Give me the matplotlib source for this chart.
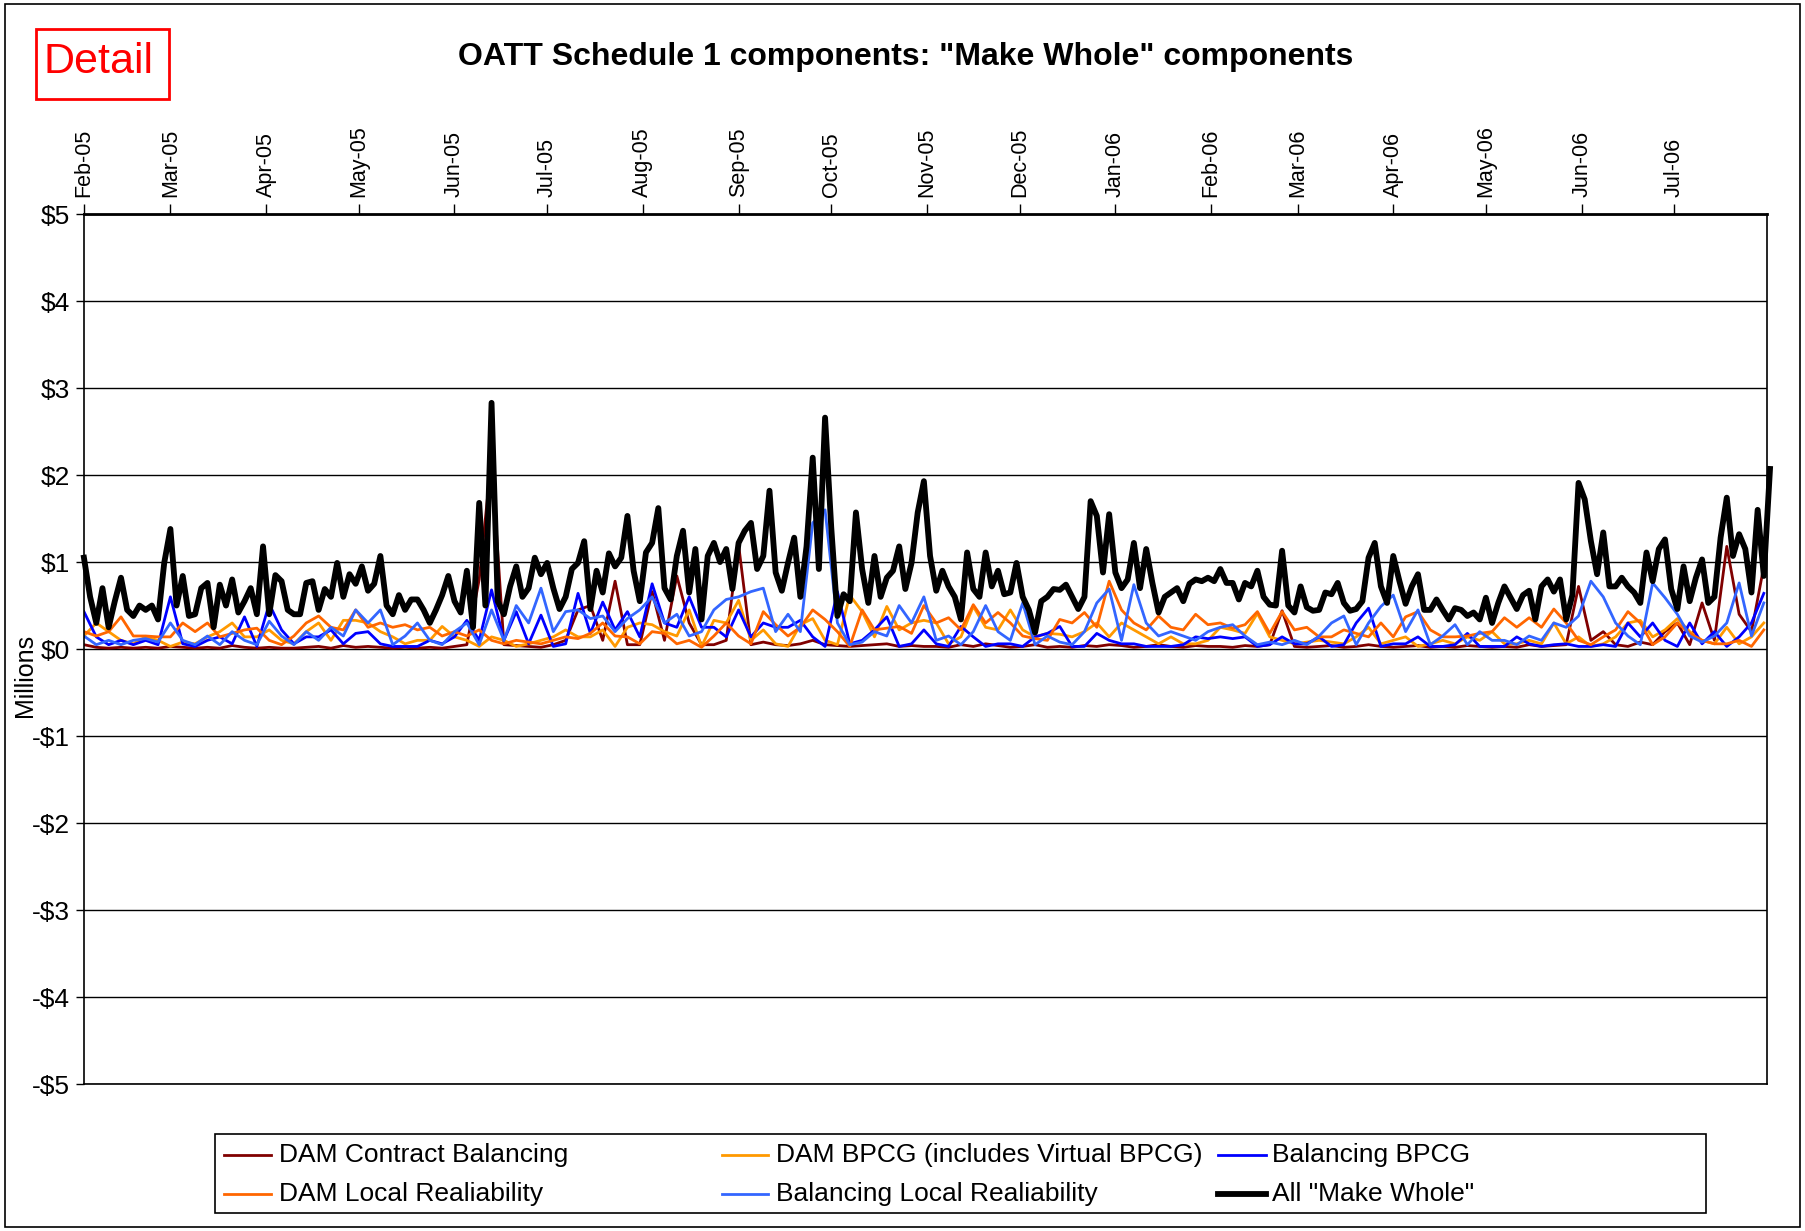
import matplotlib
matplotlib.use("Agg")
import matplotlib.pyplot as plt
import matplotlib.dates as mdates
from matplotlib.lines import Line2D
from matplotlib.patches import Rectangle
import pandas as pd

plt.rcParams['font.family'] = ['Liberation Sans', 'DejaVu Sans']

# daily make-whole totals, read every 2nd day ($ millions)
all_make_whole = [
    1.05, 0.6, 0.3, 0.7, 0.25, 0.55, 0.82, 0.45, 0.38, 0.5,
    0.45, 0.5, 0.34, 0.99, 1.38, 0.5, 0.84, 0.38, 0.4, 0.7,
    0.76, 0.25, 0.74, 0.5, 0.8, 0.42, 0.55, 0.7, 0.4, 1.18,
    0.4, 0.85, 0.78, 0.45, 0.4, 0.4, 0.76, 0.78, 0.45, 0.69,
    0.6, 0.99, 0.6, 0.86, 0.75, 0.95, 0.67,
    0.75, 1.07, 0.5, 0.4, 0.62, 0.45, 0.57, 0.57, 0.45, 0.3,
    0.45, 0.62, 0.84, 0.55, 0.42, 0.9, 0.25, 1.68, 0.5, 2.83,
    0.55, 0.4, 0.72, 0.95, 0.6, 0.7, 1.05, 0.86, 0.99, 0.7,
    0.46, 0.6, 0.92, 0.99, 1.24, 0.46, 0.9, 0.65, 1.1, 0.95,
    1.05, 1.53, 0.9, 0.55, 1.11,
    1.22, 1.62, 0.7, 0.57, 1.07, 1.36, 0.65, 1.15, 0.34, 1.07,
    1.22, 1.0, 1.15, 0.69, 1.22, 1.36, 1.45, 0.92, 1.07, 1.82,
    0.88, 0.67, 0.99, 1.28, 0.6, 1.18, 2.2, 0.92, 2.66, 1.4,
    0.38, 0.63, 0.55, 1.57, 0.92, 0.53, 1.07, 0.6, 0.82, 0.9,
    1.18, 0.69, 0.99, 1.57, 1.93,
    1.07, 0.67, 0.9, 0.72, 0.6, 0.34, 1.11, 0.69, 0.6, 1.11,
    0.72, 0.9, 0.63, 0.65, 0.99, 0.6, 0.45, 0.19, 0.55, 0.6,
    0.69, 0.68, 0.74, 0.6, 0.46, 0.6, 1.7, 1.53, 0.88, 1.55,
    0.88, 0.7, 0.8, 1.22, 0.7, 1.15, 0.76, 0.42, 0.6, 0.65,
    0.7, 0.55, 0.75, 0.8, 0.78, 0.82,
    0.78, 0.92, 0.76, 0.76, 0.57, 0.76, 0.72, 0.9, 0.6, 0.51,
    0.5, 1.13, 0.5, 0.42, 0.72, 0.48, 0.44, 0.45, 0.65, 0.63,
    0.76, 0.53, 0.44, 0.46, 0.55, 1.05, 1.22, 0.72, 0.53, 1.07,
    0.78, 0.52, 0.72, 0.86, 0.45, 0.45, 0.57, 0.45, 0.34, 0.47,
    0.45, 0.38, 0.42, 0.34, 0.59, 0.3,
    0.53, 0.72, 0.59, 0.46, 0.62, 0.67, 0.34, 0.72, 0.8, 0.66,
    0.8, 0.34, 0.62, 1.91, 1.72, 1.24, 0.86, 1.34, 0.72, 0.72,
    0.82, 0.72, 0.65, 0.53, 1.11, 0.78, 1.15, 1.26, 0.69, 0.46,
    0.95, 0.55, 0.82, 1.03, 0.53, 0.6, 1.28, 1.74, 1.07, 1.32,
    1.15, 0.65, 1.6, 0.84, 2.07,
]

# components, read every 4th day ($ millions)
dam_contract_balancing = [
    0.05, 0.02, 0.01, 0.02, 0.01, 0.02, 0.01, 0.03, 0.02, 0.01, 0.02, 0.01,
    0.04, 0.02, 0.01, 0.02, 0.01, 0.01, 0.02, 0.03, 0.01, 0.04, 0.02, 0.03,
    0.02, 0.01, 0.02, 0.01, 0.02, 0.01, 0.03, 0.05, 0.8, 2.2, 0.05,
    0.04, 0.03, 0.02, 0.05, 0.1, 0.45, 0.5, 0.1, 0.78, 0.05, 0.05,
    0.66, 0.1, 0.84, 0.3, 0.05, 0.05, 0.1, 1.2, 0.05, 0.08, 0.05, 0.04,
    0.06, 0.1, 0.05, 0.04, 0.03, 0.04, 0.05, 0.06, 0.03, 0.04, 0.03,
    0.03, 0.02, 0.05, 0.03, 0.06, 0.04, 0.02, 0.03, 0.05, 0.02, 0.03, 0.02,
    0.04, 0.03, 0.05, 0.04, 0.02, 0.03, 0.05, 0.03, 0.02, 0.04, 0.03,
    0.03, 0.02, 0.04, 0.03, 0.05, 0.44, 0.03, 0.02, 0.03, 0.04, 0.02, 0.03,
    0.05, 0.03, 0.02, 0.03, 0.04, 0.02, 0.03, 0.02, 0.04, 0.03, 0.02,
    0.03, 0.02, 0.05, 0.03, 0.04, 0.05, 0.72, 0.1, 0.2, 0.05, 0.03,
    0.08, 0.05, 0.2, 0.3, 0.05, 0.53, 0.1, 1.18, 0.4, 0.2, 0.95,
]
dam_local_reliability = [
    0.2, 0.15, 0.2, 0.37, 0.15, 0.15, 0.14, 0.14, 0.3, 0.2, 0.3, 0.14,
    0.18, 0.22, 0.24, 0.1, 0.05, 0.15, 0.3, 0.38, 0.25, 0.22, 0.45, 0.25,
    0.3, 0.25, 0.28, 0.22, 0.25, 0.15, 0.2, 0.15, 0.22, 0.1, 0.06,
    0.1, 0.08, 0.06, 0.1, 0.14, 0.12, 0.18, 0.3, 0.15, 0.14, 0.06,
    0.2, 0.18, 0.06, 0.1, 0.02, 0.15, 0.3, 0.15, 0.06, 0.43, 0.28, 0.15,
    0.25, 0.45, 0.34, 0.2, 0.03, 0.45, 0.22, 0.24, 0.26, 0.18, 0.5,
    0.3, 0.36, 0.22, 0.51, 0.3, 0.42, 0.3, 0.15, 0.12, 0.1, 0.34, 0.3,
    0.42, 0.25, 0.78, 0.45, 0.3, 0.22, 0.38, 0.25, 0.22, 0.4, 0.28,
    0.3, 0.24, 0.28, 0.43, 0.18, 0.43, 0.22, 0.25, 0.14, 0.14, 0.22, 0.18,
    0.14, 0.3, 0.14, 0.37, 0.43, 0.22, 0.14, 0.14, 0.15, 0.18, 0.2,
    0.36, 0.25, 0.36, 0.25, 0.46, 0.3, 0.1, 0.05, 0.14, 0.22, 0.43,
    0.3, 0.05, 0.14, 0.3, 0.18, 0.1, 0.06, 0.06, 0.1, 0.03, 0.22,
]
dam_bpcg = [
    0.15, 0.3, 0.2, 0.1, 0.06, 0.14, 0.1, 0.03, 0.08, 0.06, 0.14, 0.2,
    0.3, 0.14, 0.14, 0.22, 0.1, 0.06, 0.2, 0.3, 0.1, 0.33, 0.33, 0.3,
    0.2, 0.14, 0.06, 0.1, 0.1, 0.26, 0.14, 0.1, 0.03, 0.14, 0.1,
    0.03, 0.06, 0.1, 0.14, 0.22, 0.14, 0.14, 0.22, 0.03, 0.25, 0.3,
    0.28, 0.2, 0.15, 0.45, 0.03, 0.33, 0.3, 0.56, 0.1, 0.22, 0.06, 0.03,
    0.28, 0.35, 0.1, 0.05, 0.62, 0.43, 0.14, 0.49, 0.22, 0.3, 0.33,
    0.3, 0.06, 0.14, 0.49, 0.25, 0.22, 0.45, 0.22, 0.14, 0.18, 0.17, 0.14,
    0.2, 0.3, 0.14, 0.3, 0.22, 0.14, 0.06, 0.14, 0.06, 0.06, 0.1,
    0.25, 0.22, 0.18, 0.41, 0.14, 0.1, 0.06, 0.08, 0.1, 0.08, 0.06, 0.14,
    0.25, 0.06, 0.1, 0.14, 0.03, 0.06, 0.1, 0.06, 0.14, 0.1, 0.2,
    0.06, 0.06, 0.1, 0.06, 0.3, 0.06, 0.14, 0.03, 0.06, 0.14, 0.3,
    0.33, 0.14, 0.22, 0.35, 0.2, 0.1, 0.06, 0.25, 0.06, 0.14, 0.3,
]
balancing_local_reliability = [
    0.15, 0.05, 0.1, 0.05, 0.1, 0.12, 0.08, 0.3, 0.1, 0.05, 0.15, 0.05,
    0.2, 0.1, 0.05, 0.32, 0.15, 0.05, 0.2, 0.1, 0.25, 0.15, 0.45, 0.3,
    0.45, 0.05, 0.15, 0.3, 0.1, 0.05, 0.2, 0.3, 0.05, 0.45, 0.1,
    0.5, 0.3, 0.7, 0.2, 0.43, 0.45, 0.35, 0.38, 0.2, 0.35, 0.45,
    0.6, 0.3, 0.4, 0.15, 0.2, 0.45, 0.57, 0.6, 0.66, 0.7, 0.2, 0.4,
    0.2, 1.45, 1.6, 0.3, 0.05, 0.08, 0.2, 0.15, 0.5, 0.3, 0.6,
    0.1, 0.15, 0.05, 0.2, 0.5, 0.2, 0.1, 0.53, 0.05, 0.15, 0.08, 0.05,
    0.2, 0.53, 0.69, 0.1, 0.74, 0.3, 0.15, 0.2, 0.15, 0.1, 0.2,
    0.25, 0.28, 0.15, 0.05, 0.08, 0.05, 0.1, 0.05, 0.15, 0.3, 0.38, 0.05,
    0.3, 0.49, 0.62, 0.2, 0.45, 0.05, 0.15, 0.28, 0.05, 0.2, 0.1,
    0.1, 0.05, 0.15, 0.1, 0.3, 0.25, 0.38, 0.78, 0.6, 0.3, 0.15,
    0.05, 0.76, 0.59, 0.4, 0.15, 0.08, 0.15, 0.3, 0.76, 0.15, 0.53,
]
balancing_bpcg = [
    0.43, 0.14, 0.05, 0.1, 0.05, 0.1, 0.05, 0.6, 0.06, 0.03, 0.1, 0.14,
    0.06, 0.37, 0.03, 0.52, 0.22, 0.06, 0.14, 0.14, 0.22, 0.06, 0.18, 0.2,
    0.06, 0.03, 0.03, 0.03, 0.1, 0.06, 0.14, 0.33, 0.1, 0.68, 0.1,
    0.43, 0.06, 0.39, 0.03, 0.06, 0.64, 0.18, 0.54, 0.22, 0.43, 0.14,
    0.75, 0.3, 0.25, 0.6, 0.25, 0.25, 0.14, 0.45, 0.14, 0.3, 0.25, 0.25,
    0.33, 0.14, 0.03, 0.66, 0.06, 0.1, 0.22, 0.37, 0.03, 0.06, 0.22,
    0.06, 0.03, 0.26, 0.14, 0.03, 0.06, 0.06, 0.03, 0.14, 0.18, 0.26, 0.03,
    0.03, 0.18, 0.1, 0.06, 0.06, 0.03, 0.03, 0.03, 0.05, 0.14, 0.12,
    0.14, 0.12, 0.14, 0.03, 0.05, 0.14, 0.06, 0.06, 0.14, 0.03, 0.05, 0.3,
    0.47, 0.03, 0.06, 0.06, 0.14, 0.03, 0.03, 0.05, 0.18, 0.03, 0.03,
    0.03, 0.14, 0.06, 0.03, 0.05, 0.06, 0.03, 0.03, 0.05, 0.03, 0.3,
    0.14, 0.3, 0.1, 0.03, 0.3, 0.06, 0.2, 0.03, 0.14, 0.3, 0.64,
]

labels = ['DAM Contract Balancing', 'DAM BPCG (includes Virtual BPCG)', 'Balancing BPCG',
          'DAM Local Realiability', 'Balancing Local Realiability', 'All "Make Whole"']
colors = ['#800000', '#FF9900', '#0000FF', '#FF6600', '#3366FF', '#000000']
widths = [2.0, 2.0, 2.0, 2.0, 2.0, 4.2]

start = pd.Timestamp('2005-02-01')
d4 = pd.date_range(start, periods=len(dam_bpcg), freq='4D')
d2 = pd.date_range(start, periods=len(all_make_whole), freq='2D')

fig = plt.figure(figsize=(18.05, 12.31), dpi=100)
ax = fig.add_axes([0.0465, 0.1194, 0.9324, 0.7067])

comps = [dam_contract_balancing, dam_bpcg, balancing_bpcg,
         dam_local_reliability, balancing_local_reliability]
for vals, c, w in zip(comps, colors[:5], widths[:5]):
    ax.plot(d4[:len(vals)], vals, color=c, lw=w)
ax.plot(d2, all_make_whole, color='black', lw=widths[5], clip_on=False)

ax.set_xlim(start, pd.Timestamp('2006-07-31'))
ax.set_ylim(-5, 5)
ax.set_yticks(range(-5, 6))
ax.set_yticklabels([('-$%d' % -v) if v < 0 else ('$%d' % v) for v in range(-5, 6)])
ax.yaxis.grid(True, color='black', lw=1)
ax.set_axisbelow(True)

ax.xaxis.tick_top()
ax.xaxis.set_major_locator(mdates.MonthLocator())
ax.xaxis.set_major_formatter(mdates.DateFormatter('%b-%y'))
plt.setp(ax.get_xticklabels(), rotation=90, ha='center', va='bottom')
ax.tick_params(axis='x', direction='out', length=7, labelsize=15.5, pad=5, width=1)
ax.tick_params(axis='y', direction='out', length=6, labelsize=19, pad=4, width=1)
for s in ax.spines.values():
    s.set_linewidth(1.2)
ax.spines['top'].set_linewidth(2)

fig.text(0.0139, 0.451, 'Millions', rotation=90, ha='center', va='center', fontsize=18)
fig.text(0.502, 0.954, 'OATT Schedule 1 components: "Make Whole" components',
         ha='center', va='center', fontsize=23, fontweight='bold')

fig.add_artist(Rectangle((0.0199, 0.9196), 0.0737, 0.0568, transform=fig.transFigure,
                         fill=False, edgecolor='red', lw=2))
fig.text(0.0545, 0.9495, 'Detail', color='red', ha='center', va='center', fontsize=31)

# legend, laid out like the original (3 fixed-width columns)
fig.add_artist(Rectangle((0.1191, 0.0146), 0.8261, 0.0642, transform=fig.transFigure,
                         fill=False, edgecolor='black', lw=1.2))
cols = [(0.1241, 0.1501, 0.1546), (0.4, 0.4255, 0.4299), (0.6748, 0.7014, 0.7047)]
rows = [0.0617, 0.0301]
for k, (lab, c, w) in enumerate(zip(labels, colors, widths)):
    x0, x1, xt = cols[k % 3]
    y = rows[k // 3]
    fig.add_artist(Line2D([x0, x1], [y, y], color=c, lw=w, transform=fig.transFigure))
    fig.text(xt, y, lab, ha='left', va='center', fontsize=19)

fig.add_artist(Rectangle((0.003, 0.003), 0.994, 0.994, transform=fig.transFigure,
                         fill=False, edgecolor='black', lw=1.2))

fig.savefig('out.png', dpi=100)
